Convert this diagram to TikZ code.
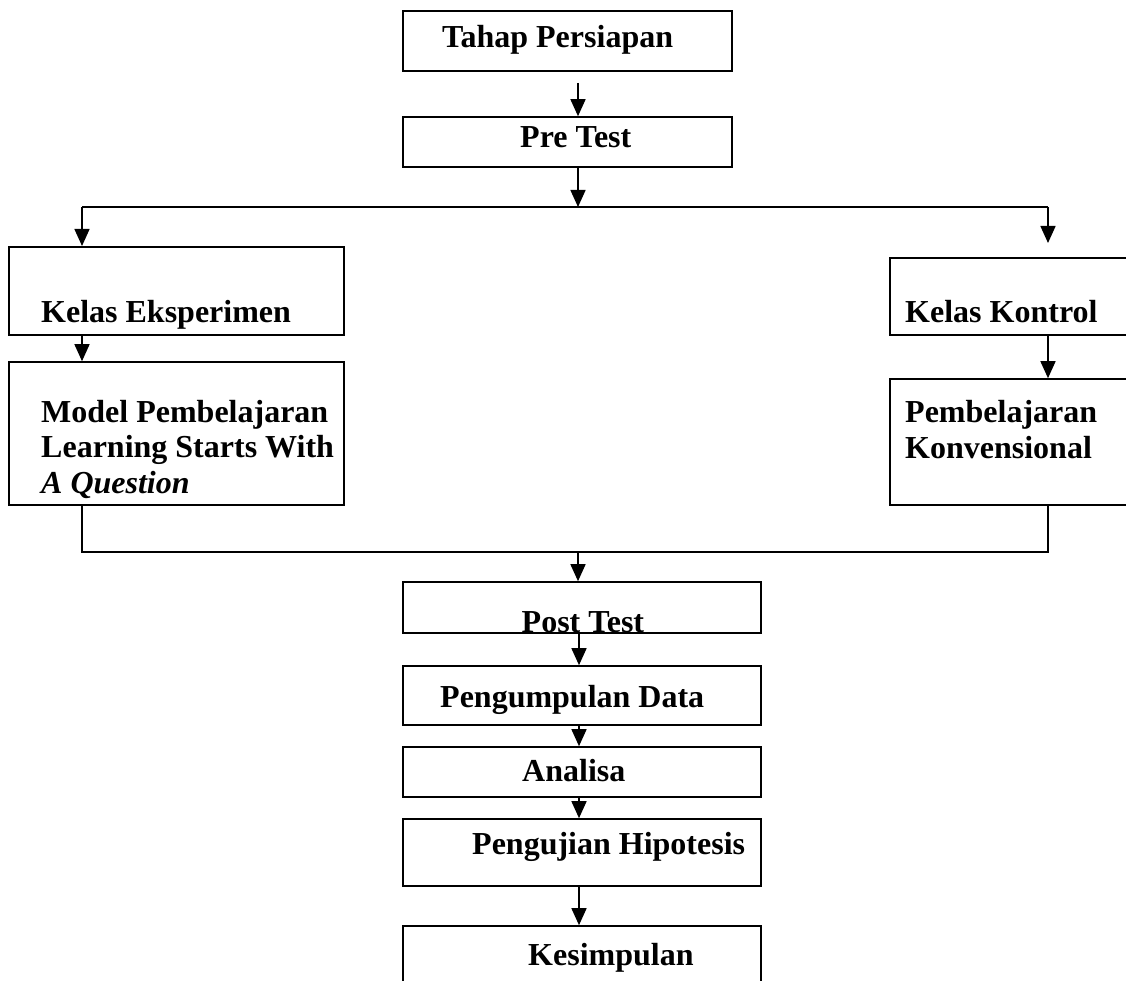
\documentclass[tikz,border=0pt]{standalone}
\usepackage{fontspec}
\setmainfont{Liberation Serif}
\usetikzlibrary{arrows.meta}
\tikzset{
  x=1pt, y=-1pt,
  box/.style={draw, line width=1.6pt, inner sep=0pt, rectangle},
  lbl/.style={anchor=base west, inner sep=0pt, align=left,
    font=\fontsize{32}{35.5}\selectfont\bfseries},
  conn/.style={line width=1.5pt},
  arr/.style={conn, -{Triangle[width=15pt,length=17pt]}}
}
\begin{document}
\begin{tikzpicture}
\clip (0,0) rectangle (1126,981);
\fill[white] (0,0) rectangle (1126,981);
% boxes
\node[box, minimum width=329pt, minimum height=60pt] (tahap) at (567.5,41) {};
\node[box, minimum width=329pt, minimum height=50pt] (pre) at (567.5,142) {};
\node[box, minimum width=335pt, minimum height=88pt] (eks) at (176.5,291) {};
\node[box, minimum width=335pt, minimum height=143pt] (model) at (176.5,433.5) {};
\node[box, minimum width=270pt, minimum height=77pt] (kon) at (1025,296.5) {};
\node[box, minimum width=270pt, minimum height=126pt] (konv) at (1025,442) {};
\node[box, minimum width=358pt, minimum height=51pt] (post) at (582,607.5) {};
\node[box, minimum width=358pt, minimum height=59pt] (kump) at (582,695.5) {};
\node[box, minimum width=358pt, minimum height=50pt] (anal) at (582,772) {};
\node[box, minimum width=358pt, minimum height=67pt] (uji) at (582,852.5) {};
\node[box, minimum width=358pt, minimum height=74pt] (kes) at (582,963) {};
% labels
\node[lbl] (ttahap) at (442,48) {Tahap Persiapan};
\node[lbl] (tpre) at (520,148) {Pre Test};
\node[lbl] (teks) at (41,323) {Kelas Eksperimen};
\node[lbl] (tmodel) at (41,493) {Model Pembelajaran\\Learning Starts With\\\textit{A Question}};
\node[lbl] (tkon) at (905,323) {Kelas Kontrol};
\node[lbl] (tkonv) at (905,458) {Pembelajaran\\Konvensional};
\node[lbl] (tpost) at (521.5,632) {Post Test};
\node[lbl] (tkump) at (440,707) {Pengumpulan Data};
\node[lbl] (tanal) at (522,781) {Analisa};
\node[lbl] (tuji) at (472,854) {Pengujian Hipotesis};
\node[lbl] (tkes) at (528,965) {Kesimpulan};
% coordinates
\coordinate (split) at (578,207);
\coordinate (eksin) at (82,246);
\coordinate (konin) at (1048,243);
\coordinate (join) at (578,552);
% connectors
\draw[arr] ([xshift=10.5pt,yshift=-11pt]tahap.south) -- ([xshift=10.5pt]pre.north);
\draw[arr] ([xshift=10.5pt]pre.south) -- (split);
\draw[conn] (eksin |- split) -- (konin |- split);
\draw[arr] (eksin |- split) -- (eksin);
\draw[arr] (konin |- split) -- (konin);
\draw[arr] (eks.south -| eksin) -- (model.north -| eksin);
\draw[arr] (kon.south -| konin) -- (konv.north -| konin);
\draw[conn] (model.south -| eksin) |- (join) -| (konv.south -| konin);
\draw[arr] (join) -- ([xshift=-4pt]post.north);
\draw[arr] ([xshift=-3pt]post.south) -- ([xshift=-3pt]kump.north);
\draw[arr] ([xshift=-3pt]kump.south) -- ([xshift=-3pt]anal.north);
\draw[arr] ([xshift=-3pt]anal.south) -- ([xshift=-3pt]uji.north);
\draw[arr] ([xshift=-3pt]uji.south) -- ([xshift=-3pt]kes.north);
\end{tikzpicture}
\end{document}
